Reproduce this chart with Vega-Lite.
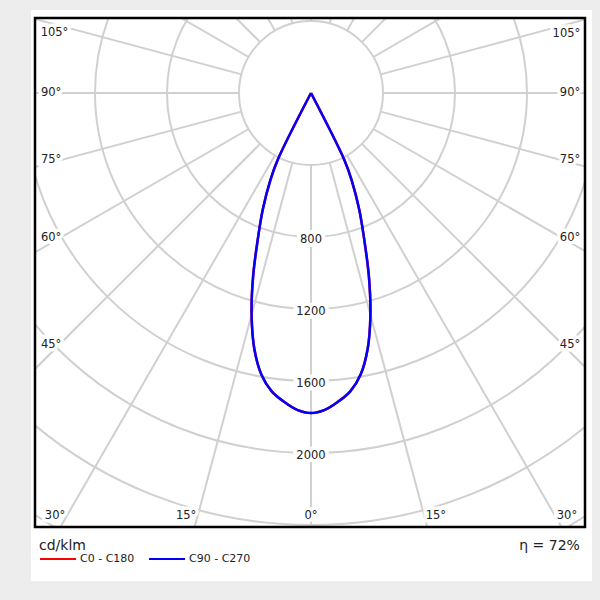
{
  "$schema": "https://vega.github.io/schema/vega-lite/v6.json",
  "width": 550,
  "height": 509,
  "autosize": {"type": "none"},
  "padding": {"left": 35, "top": 18, "right": 15, "bottom": 73},
  "background": "#ededed",
  "config": {"view": {"stroke": null}, "axis": {"disable": true}, "font": "DejaVu Sans"},
  "datasets": {
    "panel": [{"x1": -1555.6, "x2": 1561.1, "y1": 461, "y2": -2711}],
    "frame": [{"x1": -1533.3, "x2": 1522.2, "y1": 416.7, "y2": -2411.1}],
    "circles": [{"r": 400}, {"r": 800}, {"r": 1200}, {"r": 1600}, {"r": 2000}, {"r": 2400}, {"r": 2800}, {"r": 3200}],
    "spokes": [{"a": 0}, {"a": 15}, {"a": 30}, {"a": 45}, {"a": 60}, {"a": 75}, {"a": 90}, {"a": 105}, {"a": 120}, {"a": 135}, {"a": 150}, {"a": 165}, {"a": 180}, {"a": 195}, {"a": 210}, {"a": 225}, {"a": 240}, {"a": 255}, {"a": 270}, {"a": 285}, {"a": 300}, {"a": 315}, {"a": 330}, {"a": 345}],
    "angleLabels": [
      {"t": "105°", "x": -1425, "y": 333},
      {"t": "90°", "x": -1444, "y": 0},
      {"t": "75°", "x": -1444, "y": -372},
      {"t": "60°", "x": -1444, "y": -806},
      {"t": "45°", "x": -1444, "y": -1400},
      {"t": "105°", "x": 1419, "y": 328},
      {"t": "90°", "x": 1439, "y": 0},
      {"t": "75°", "x": 1439, "y": -372},
      {"t": "60°", "x": 1439, "y": -806},
      {"t": "45°", "x": 1439, "y": -1400},
      {"t": "30°", "x": -1422, "y": -2350},
      {"t": "15°", "x": -694, "y": -2350},
      {"t": "0°", "x": 0, "y": -2350},
      {"t": "15°", "x": 694, "y": -2350},
      {"t": "30°", "x": 1422, "y": -2350}
    ],
    "valueLabels": [{"v": 800}, {"v": 1200}, {"v": 1600}, {"v": 2000}],
    "curves": [
      {"series": "C0 - C180", "a": -27.5, "cd": 0},
      {"series": "C0 - C180", "a": -26.5, "cd": 414},
      {"series": "C0 - C180", "a": -25, "cd": 535},
      {"series": "C0 - C180", "a": -22.5, "cd": 700},
      {"series": "C0 - C180", "a": -20, "cd": 864},
      {"series": "C0 - C180", "a": -17.5, "cd": 1070},
      {"series": "C0 - C180", "a": -15, "cd": 1275},
      {"series": "C0 - C180", "a": -12.5, "cd": 1455},
      {"series": "C0 - C180", "a": -10, "cd": 1588},
      {"series": "C0 - C180", "a": -7.5, "cd": 1672},
      {"series": "C0 - C180", "a": -5, "cd": 1722},
      {"series": "C0 - C180", "a": -2.5, "cd": 1762},
      {"series": "C0 - C180", "a": 0, "cd": 1778},
      {"series": "C0 - C180", "a": 2.5, "cd": 1762},
      {"series": "C0 - C180", "a": 5, "cd": 1722},
      {"series": "C0 - C180", "a": 7.5, "cd": 1672},
      {"series": "C0 - C180", "a": 10, "cd": 1588},
      {"series": "C0 - C180", "a": 12.5, "cd": 1455},
      {"series": "C0 - C180", "a": 15, "cd": 1275},
      {"series": "C0 - C180", "a": 17.5, "cd": 1070},
      {"series": "C0 - C180", "a": 20, "cd": 864},
      {"series": "C0 - C180", "a": 22.5, "cd": 700},
      {"series": "C0 - C180", "a": 25, "cd": 535},
      {"series": "C0 - C180", "a": 26.5, "cd": 414},
      {"series": "C0 - C180", "a": 27.5, "cd": 0},
      {"series": "C90 - C270", "a": -27.5, "cd": 0},
      {"series": "C90 - C270", "a": -26.5, "cd": 414},
      {"series": "C90 - C270", "a": -25, "cd": 535},
      {"series": "C90 - C270", "a": -22.5, "cd": 700},
      {"series": "C90 - C270", "a": -20, "cd": 864},
      {"series": "C90 - C270", "a": -17.5, "cd": 1070},
      {"series": "C90 - C270", "a": -15, "cd": 1275},
      {"series": "C90 - C270", "a": -12.5, "cd": 1455},
      {"series": "C90 - C270", "a": -10, "cd": 1588},
      {"series": "C90 - C270", "a": -7.5, "cd": 1672},
      {"series": "C90 - C270", "a": -5, "cd": 1722},
      {"series": "C90 - C270", "a": -2.5, "cd": 1762},
      {"series": "C90 - C270", "a": 0, "cd": 1778},
      {"series": "C90 - C270", "a": 2.5, "cd": 1762},
      {"series": "C90 - C270", "a": 5, "cd": 1722},
      {"series": "C90 - C270", "a": 7.5, "cd": 1672},
      {"series": "C90 - C270", "a": 10, "cd": 1588},
      {"series": "C90 - C270", "a": 12.5, "cd": 1455},
      {"series": "C90 - C270", "a": 15, "cd": 1275},
      {"series": "C90 - C270", "a": 17.5, "cd": 1070},
      {"series": "C90 - C270", "a": 20, "cd": 864},
      {"series": "C90 - C270", "a": 22.5, "cd": 700},
      {"series": "C90 - C270", "a": 25, "cd": 535},
      {"series": "C90 - C270", "a": 26.5, "cd": 414},
      {"series": "C90 - C270", "a": 27.5, "cd": 0}
    ],
    "eta": [{"t": "η = 72%", "x": 1494, "y": -2517}]
  },
  "layer": [
    {
      "data": {"name": "panel"},
      "mark": {"type": "rect", "fill": "white", "clip": false},
      "encoding": {
        "x": {"field": "x1", "type": "quantitative", "scale": {"domain": [-1533.3, 1522.2], "nice": false, "zero": false}},
        "x2": {"field": "x2"},
        "y": {"field": "y1", "type": "quantitative", "scale": {"domain": [-2411.1, 416.7], "nice": false, "zero": false}},
        "y2": {"field": "y2"}
      }
    },
    {
      "data": {"name": "circles"},
      "mark": {"type": "arc", "filled": false, "stroke": "#d0d0d0", "strokeWidth": 2, "clip": true, "theta": 0, "theta2": 6.2832},
      "encoding": {
        "x": {"datum": 0, "type": "quantitative", "scale": {"domain": [-1533.3, 1522.2], "nice": false, "zero": false}},
        "y": {"datum": 0, "type": "quantitative", "scale": {"domain": [-2411.1, 416.7], "nice": false, "zero": false}},
        "radius": {"field": "r", "type": "quantitative", "stack": null, "scale": {"type": "linear", "domain": [0, 1000], "range": [0, 180]}}
      }
    },
    {
      "data": {"name": "spokes"},
      "transform": [
        {"calculate": "400*sin(datum.a*PI/180)", "as": "sx"},
        {"calculate": "-400*cos(datum.a*PI/180)", "as": "sy"},
        {"calculate": "4000*sin(datum.a*PI/180)", "as": "ex"},
        {"calculate": "-4000*cos(datum.a*PI/180)", "as": "ey"}
      ],
      "mark": {"type": "rule", "stroke": "#d0d0d0", "strokeWidth": 2, "clip": true},
      "encoding": {
        "x": {"field": "sx", "type": "quantitative", "scale": {"domain": [-1533.3, 1522.2], "nice": false, "zero": false}},
        "y": {"field": "sy", "type": "quantitative", "scale": {"domain": [-2411.1, 416.7], "nice": false, "zero": false}},
        "x2": {"field": "ex"},
        "y2": {"field": "ey"}
      }
    },
    {
      "data": {"name": "angleLabels"},
      "mark": {"type": "text", "fontSize": 11.5, "font": "DejaVu Sans", "fill": "white", "stroke": "white", "strokeWidth": 7, "baseline": "middle", "align": "center"},
      "encoding": {
        "x": {"field": "x", "type": "quantitative", "scale": {"domain": [-1533.3, 1522.2], "nice": false, "zero": false}},
        "y": {"field": "y", "type": "quantitative", "scale": {"domain": [-2411.1, 416.7], "nice": false, "zero": false}},
        "text": {"field": "t"}
      }
    },
    {
      "data": {"name": "angleLabels"},
      "mark": {"type": "text", "fontSize": 11.5, "font": "DejaVu Sans", "fill": "#222222", "baseline": "middle", "align": "center"},
      "encoding": {
        "x": {"field": "x", "type": "quantitative", "scale": {"domain": [-1533.3, 1522.2], "nice": false, "zero": false}},
        "y": {"field": "y", "type": "quantitative", "scale": {"domain": [-2411.1, 416.7], "nice": false, "zero": false}},
        "text": {"field": "t"}
      }
    },
    {
      "data": {"name": "valueLabels"},
      "transform": [{"calculate": "-datum.v", "as": "ny"}, {"calculate": "0", "as": "nx"}],
      "mark": {"type": "text", "fontSize": 11.5, "font": "DejaVu Sans", "fill": "white", "stroke": "white", "strokeWidth": 8, "baseline": "middle", "align": "center", "dy": 3},
      "encoding": {
        "x": {"field": "nx", "type": "quantitative", "scale": {"domain": [-1533.3, 1522.2], "nice": false, "zero": false}},
        "y": {"field": "ny", "type": "quantitative", "scale": {"domain": [-2411.1, 416.7], "nice": false, "zero": false}},
        "text": {"field": "v"}
      }
    },
    {
      "data": {"name": "valueLabels"},
      "transform": [{"calculate": "-datum.v", "as": "ny"}, {"calculate": "0", "as": "nx"}],
      "mark": {"type": "text", "fontSize": 11.5, "font": "DejaVu Sans", "fill": "#222222", "baseline": "middle", "align": "center", "dy": 3},
      "encoding": {
        "x": {"field": "nx", "type": "quantitative", "scale": {"domain": [-1533.3, 1522.2], "nice": false, "zero": false}},
        "y": {"field": "ny", "type": "quantitative", "scale": {"domain": [-2411.1, 416.7], "nice": false, "zero": false}},
        "text": {"field": "v"}
      }
    },
    {
      "data": {"name": "curves"},
      "transform": [
        {"filter": "datum.series === 'C0 - C180'"},
        {"calculate": "datum.cd*sin(datum.a*PI/180)", "as": "px"},
        {"calculate": "-datum.cd*cos(datum.a*PI/180)", "as": "py"}
      ],
      "mark": {"type": "line", "strokeWidth": 2.5, "clip": true, "interpolate": "catmull-rom"},
      "encoding": {
        "x": {"field": "px", "type": "quantitative", "scale": {"domain": [-1533.3, 1522.2], "nice": false, "zero": false}},
        "y": {"field": "py", "type": "quantitative", "scale": {"domain": [-2411.1, 416.7], "nice": false, "zero": false}},
        "order": {"field": "a", "type": "quantitative"},
        "color": {"field": "series", "type": "nominal", "scale": {"domain": ["C0 - C180", "C90 - C270"], "range": ["#ff0000", "#0000ff"]},
          "legend": {"orient": "none", "legendX": 4, "legendY": 521, "direction": "horizontal", "title": "cd/klm", "titleFontSize": 14, "titleFontWeight": "normal", "titleColor": "#222222", "titleFont": "DejaVu Sans", "titlePadding": -13, "labelFontSize": 11, "labelColor": "#222222", "labelFont": "DejaVu Sans", "labelOffset": 3, "symbolType": "stroke", "symbolSize": 1296, "symbolStrokeWidth": 2, "columnPadding": 10, "padding": 0}}
      }
    },
    {
      "data": {"name": "curves"},
      "transform": [
        {"filter": "datum.series === 'C90 - C270'"},
        {"calculate": "datum.cd*sin(datum.a*PI/180)", "as": "px"},
        {"calculate": "-datum.cd*cos(datum.a*PI/180)", "as": "py"}
      ],
      "mark": {"type": "line", "strokeWidth": 2.5, "clip": true, "interpolate": "catmull-rom"},
      "encoding": {
        "x": {"field": "px", "type": "quantitative", "scale": {"domain": [-1533.3, 1522.2], "nice": false, "zero": false}},
        "y": {"field": "py", "type": "quantitative", "scale": {"domain": [-2411.1, 416.7], "nice": false, "zero": false}},
        "order": {"field": "a", "type": "quantitative"},
        "color": {"field": "series", "type": "nominal", "scale": {"domain": ["C0 - C180", "C90 - C270"], "range": ["#ff0000", "#0000ff"]},
          "legend": {"orient": "none", "legendX": 4, "legendY": 521, "direction": "horizontal", "title": "cd/klm", "titleFontSize": 14, "titleFontWeight": "normal", "titleColor": "#222222", "titleFont": "DejaVu Sans", "titlePadding": -13, "labelFontSize": 11, "labelColor": "#222222", "labelFont": "DejaVu Sans", "labelOffset": 3, "symbolType": "stroke", "symbolSize": 1296, "symbolStrokeWidth": 2, "columnPadding": 10, "padding": 0}}
      }
    },
    {
      "data": {"name": "frame"},
      "mark": {"type": "rect", "filled": false, "stroke": "#000000", "strokeWidth": 2.5, "clip": false},
      "encoding": {
        "x": {"field": "x1", "type": "quantitative", "scale": {"domain": [-1533.3, 1522.2], "nice": false, "zero": false}},
        "x2": {"field": "x2"},
        "y": {"field": "y1", "type": "quantitative", "scale": {"domain": [-2411.1, 416.7], "nice": false, "zero": false}},
        "y2": {"field": "y2"}
      }
    },
    {
      "data": {"name": "eta"},
      "mark": {"type": "text", "fontSize": 14, "font": "DejaVu Sans", "fill": "#222222", "baseline": "middle", "align": "right", "clip": false},
      "encoding": {
        "x": {"field": "x", "type": "quantitative", "scale": {"domain": [-1533.3, 1522.2], "nice": false, "zero": false}},
        "y": {"field": "y", "type": "quantitative", "scale": {"domain": [-2411.1, 416.7], "nice": false, "zero": false}},
        "text": {"field": "t"}
      }
    }
  ]
}
